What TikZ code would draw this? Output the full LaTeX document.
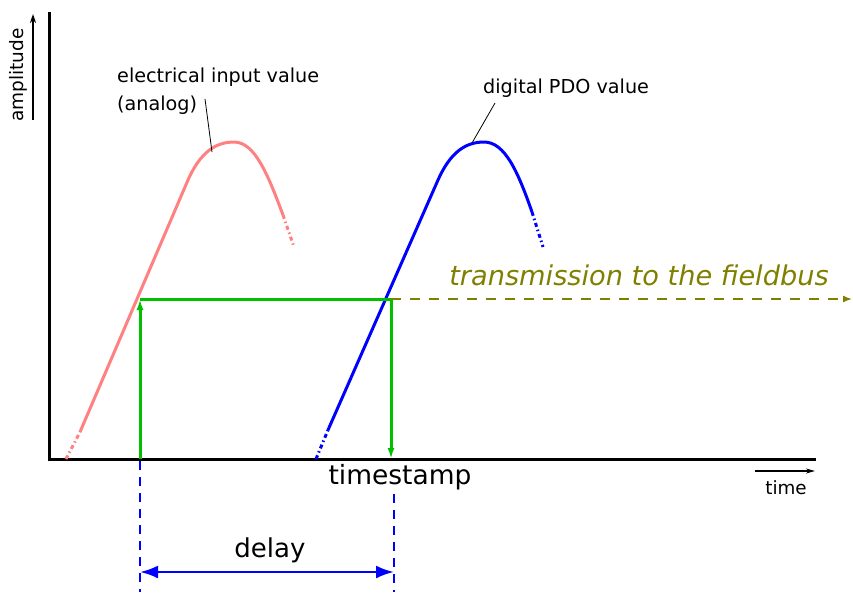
\documentclass[tikz,border=0pt]{standalone}
\usepackage{fontspec}
\setmainfont{DejaVu Sans}
\usetikzlibrary{arrows.meta}
\definecolor{redc}{RGB}{255,128,128}
\definecolor{greenc}{RGB}{0,192,0}
\definecolor{olivec}{RGB}{128,128,0}
\begin{document}
\begin{tikzpicture}[x=1pt,y=-1pt,
  lbl/.style={inner sep=0pt,anchor=base west,font=\fontsize{19.2}{22}\selectfont},
  axisline/.style={line width=3pt,black},
  dashdot/.style={dash pattern=on 4pt off 3pt on 1.5pt off 3pt},
  greenline/.style={greenc,line width=3pt},
  greentip/.style={-{Latex[length=11pt,width=7pt]}},
  bluedash/.style={blue,line width=1.5pt,dash pattern=on 9pt off 7pt}]
\useasboundingbox (0,0) rectangle (853,592);
% axes
\coordinate (ytop) at (49,12);
\coordinate (origin) at (49,459);
\coordinate (xend) at (816,459);
\draw[axisline] (ytop) -- (origin) -- (xend);
\coordinate (ampA) at (33,120);
\coordinate (ampB) at (33,14);
\draw[line width=1.5pt,-{Stealth[length=9pt,width=6pt]}] (ampA) -- (ampB);
\node[rotate=90,inner sep=0pt,font=\fontsize{18.5}{22}\selectfont] (amp) at (18,75) {amplitude};
\coordinate (timeA) at (755,471);
\coordinate (timeB) at (815,471);
\draw[line width=1.5pt,-{Stealth[length=9pt,width=5pt]}] (timeA) -- (timeB);
\node[inner sep=0pt,font=\fontsize{18.3}{22}\selectfont] (time) at (786,488) {time};
% red curve
\coordinate (r0) at (66,459);
\coordinate (r1) at (80,432);
\coordinate (r2) at (188,180);
\coordinate (rp) at (234,142);
\coordinate (r3) at (283,215);
\coordinate (r4) at (294,247);
\draw[redc,line width=3pt,dashdot] (r0) -- (r1);
\draw[redc,line width=3pt] (r1) -- (r2) .. controls (200,153) and (215,142) .. (rp) .. controls (255,142) and (268,175) .. (r3);
\draw[redc,line width=3pt,dashdot] (r3) -- (r4);
% blue curve
\coordinate (b0) at (316,459);
\coordinate (b1) at (328,430);
\coordinate (b2) at (438,180);
\coordinate (bp) at (484,142);
\coordinate (b3) at (532,212);
\coordinate (b4) at (543,247);
\draw[blue,line width=3pt,dashdot] (b0) -- (b1);
\draw[blue,line width=3pt] (b1) -- (b2) .. controls (450,153) and (465,142) .. (bp) .. controls (505,142) and (518,172) .. (b3);
\draw[blue,line width=3pt,dashdot] (b3) -- (b4);
% labels
\node[lbl] (elec) at (117,82) {electrical input value};
\node[lbl] (analog) at (117,110) {(analog)};
\coordinate (ep1) at (205,99);
\coordinate (ep2) at (212,152);
\draw[line width=0.8pt] (ep1) -- (ep2);
\node[lbl] (pdo) at (483,93) {digital PDO value};
\coordinate (pp1) at (495,103);
\coordinate (pp2) at (472,143);
\draw[line width=0.8pt] (pp1) -- (pp2);
% green
\coordinate (g0) at (140,459);
\coordinate (g1) at (140,299);
\coordinate (g2) at (391,299);
\coordinate (g3) at (391,459);
\draw[greenline,greentip] (g0) -- (g1);
\draw[greenline] (g1) -- (g2);
\draw[greenline,greentip] (g2) -- (g3);
% transmission
\coordinate (tend) at (852,299);
\draw[olivec,line width=1.5pt,dash pattern=on 10pt off 9pt,-{Latex[length=9pt,width=7pt]}] (g2) -- (tend);
\node[olivec,inner sep=0pt,font=\fontsize{27.2}{30}\selectfont\itshape] (trans) at (639,275) {transmission to the fieldbus};
% timestamp and delay
\node[inner sep=0pt,font=\fontsize{26.5}{30}\selectfont] (ts) at (400,477) {timestamp};
\coordinate (d0) at (140,461);
\coordinate (d0b) at (140,592);
\coordinate (d1) at (394,494);
\coordinate (d1b) at (394,592);
\draw[bluedash] (d0) -- (d0b);
\draw[bluedash] (d1) -- (d1b);
\coordinate (da) at (140,572);
\coordinate (db) at (394,572);
\draw[blue,line width=2.5pt,{Latex[length=18pt,width=13pt]}-{Latex[length=18pt,width=13pt]}] (da) -- (db);
\node[inner sep=0pt,font=\fontsize{26}{30}\selectfont] (delay) at (270,550) {delay};
\end{tikzpicture}
\end{document}
